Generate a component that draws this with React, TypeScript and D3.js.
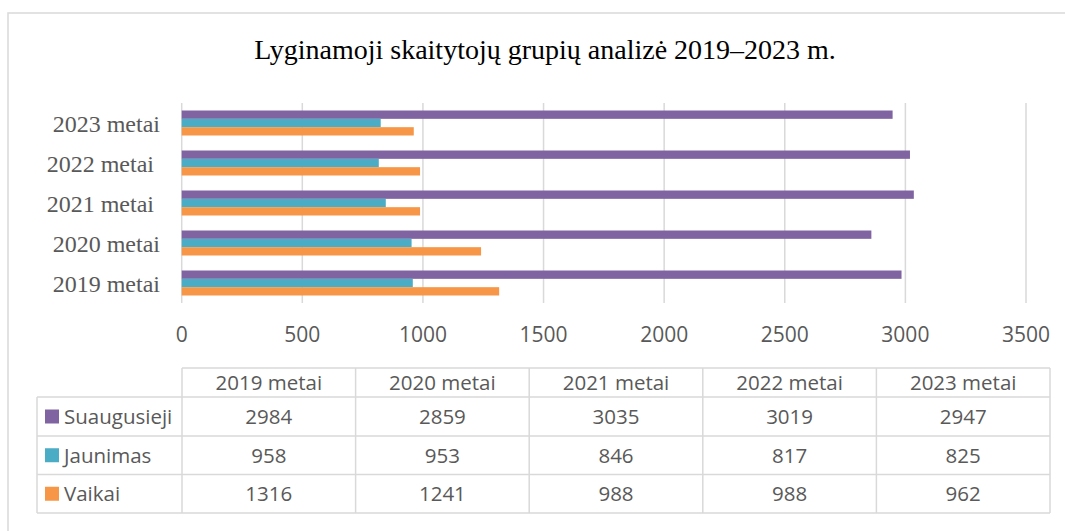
import React from "react";
import * as d3 from "d3";

const categories = ["2019 metai", "2020 metai", "2021 metai", "2022 metai", "2023 metai"];
const axisLabels = ["2019 metai", "2020 metai", "2021 metai ", "2022 metai ", "2023 metai"];
const seriesNames = ["Suaugusieji", "Jaunimas", "Vaikai"];
const suaugusieji = [2984, 2859, 3035, 3019, 2947];
const jaunimas = [958, 953, 846, 817, 825];
const vaikai = [1316, 1241, 988, 988, 962];
const xTicks = [0, 500, 1000, 1500, 2000, 2500, 3000, 3500];
const colors = ["#8064A2", "#4BACC6", "#F79646"];
const title = "Lyginamoji skaitytojų grupių analizė 2019–2023 m.";

const seriesValues = [suaugusieji, jaunimas, vaikai];

export default function App() {
  const W = 1065, H = 531;
  const x = d3.scaleLinear().domain([0, 3500]).range([181.7, 1026]);
  const y = d3
    .scaleBand<string>()
    .domain([...categories].reverse())
    .range([103, 303])
    .paddingInner(0.375)
    .paddingOuter(0.1875);
  const inner = d3.scaleBand<string>().domain(seriesNames).range([0, y.bandwidth()]);

  const col = d3.scaleBand<string>().domain(categories).range([182, 1050]);
  const rowTops = [368, 397, 436, 474.5, 513];
  const legendLeft = 37;
  const grey = "#595959";
  const border = "#d9d9d9";
  const sans = "'Open Sans', sans-serif";
  const serif = "'Liberation Serif', 'Times New Roman', serif";

  return (
    <svg width={W} height={H} style={{ position: "absolute", left: 0, top: 0 }}>
      <rect x={0} y={0} width={W} height={H} fill="#fff" />
      <rect x={8} y={13} width={W + 20} height={H + 20} fill="#fff" stroke={border} strokeWidth={1.5} />
      <text x={545} y={59} textAnchor="middle" fontFamily={serif} fontSize={28} fill="#000">
        {title}
      </text>
      {xTicks.map((t) => (
        <line key={"g" + t} x1={x(t)} x2={x(t)} y1={103} y2={303} stroke={border} strokeWidth={1.5} />
      ))}
      {categories.map((c, ci) =>
        seriesNames.map((s, si) => (
          <rect
            key={c + s}
            x={x(0)}
            y={(y(c) as number) + (inner(s) as number)}
            width={x(seriesValues[si][ci]) - x(0)}
            height={inner.bandwidth()}
            fill={colors[si]}
          />
        ))
      )}
      {categories.map((c, ci) => (
        <text
          key={"yl" + c}
          x={160}
          y={(y(c) as number) + y.bandwidth() / 2 + 8.5}
          textAnchor="end"
          fontFamily={serif}
          fontSize={24}
          fill={grey}
          style={{ whiteSpace: "pre" }}
        >
          {axisLabels[ci]}
        </text>
      ))}
      {xTicks.map((t) => (
        <text key={"xt" + t} x={x(t)} y={342} textAnchor="middle" fontFamily={sans} fontSize={21} fill={grey}>
          {t}
        </text>
      ))}
      {/* table */}
      <g fill="none" stroke={border} strokeWidth={1.5}>
        <line x1={182} x2={1050} y1={rowTops[0]} y2={rowTops[0]} />
        {rowTops.slice(1).map((r) => (
          <line key={"hr" + r} x1={legendLeft} x2={1050} y1={r} y2={r} />
        ))}
        <line x1={legendLeft} x2={legendLeft} y1={rowTops[1]} y2={rowTops[4]} />
        {categories.map((c) => (
          <line key={"vl" + c} x1={col(c)} x2={col(c)} y1={rowTops[0]} y2={rowTops[4]} />
        ))}
        <line x1={1050} x2={1050} y1={rowTops[0]} y2={rowTops[4]} />
      </g>
      {categories.map((c) => (
        <text
          key={"th" + c}
          x={(col(c) as number) + col.bandwidth() / 2}
          y={(rowTops[0] + rowTops[1]) / 2 + 7.3}
          textAnchor="middle"
          fontFamily={sans}
          fontSize={20.5}
          fill={grey}
        >
          {c}
        </text>
      ))}
      {seriesNames.map((s, si) => {
        const cy = (rowTops[si + 1] + rowTops[si + 2]) / 2;
        return (
          <g key={"row" + s}>
            <rect x={45} y={cy - 7} width={14} height={14} fill={colors[si]} />
            <text x={64} y={cy + 7.3} fontFamily={sans} fontSize={20.5} fill={grey}>
              {s}
            </text>
            {categories.map((c, ci) => (
              <text
                key={"v" + s + c}
                x={(col(c) as number) + col.bandwidth() / 2}
                y={cy + 7.3}
                textAnchor="middle"
                fontFamily={sans}
                fontSize={20.5}
                fill={grey}
              >
                {seriesValues[si][ci]}
              </text>
            ))}
          </g>
        );
      })}
    </svg>
  );
}
